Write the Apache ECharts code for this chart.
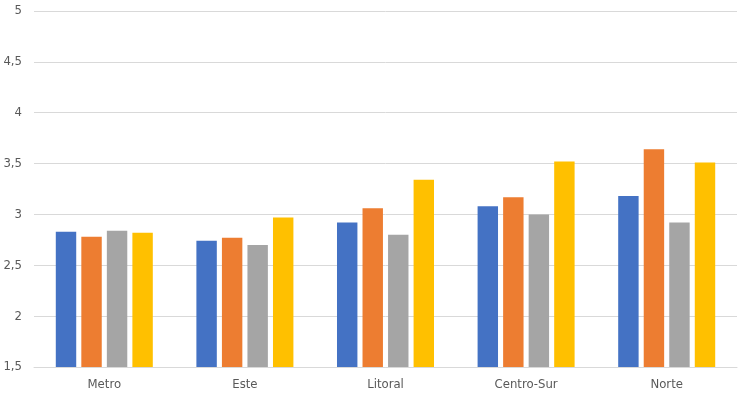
<!DOCTYPE html>
<html>
<head>
<meta charset="utf-8">
<script src="https://cdn.jsdelivr.net/npm/echarts@6/dist/echarts.min.js"></script>
<style>html,body{margin:0;padding:0;background:#fff;}#c{width:738px;height:398px;}</style>
</head>
<body>
<div id="c"></div>
<script>
var categories = ['Metro', 'Este', 'Litoral', 'Centro-Sur', 'Norte'];
var serie1 = [2.83, 2.74, 2.92, 3.08, 3.18];
var serie2 = [2.78, 2.77, 3.06, 3.17, 3.64];
var serie3 = [2.84, 2.70, 2.80, 3.00, 2.92];
var serie4 = [2.82, 2.97, 3.34, 3.52, 3.51];
var colors = ['#4472C4', '#ED7D31', '#A5A5A5', '#FFC000'];
var font = "'Liberation Sans Narrow', 'DejaVu Sans Condensed', 'Open Sans', sans-serif";

var chart = echarts.init(document.getElementById('c'));
function mk(data, i) {
  return { type: 'bar', data: data, itemStyle: { color: colors[i] }, barGap: '25%', barCategoryGap: '31%' };
}
chart.setOption({
  animation: false,
  grid: { left: 34, right: 1, top: 11, bottom: 31 },
  xAxis: {
    type: 'category', data: categories,
    axisLine: { lineStyle: { color: '#D9D9D9', width: 1 } },
    axisTick: { show: false },
    axisLabel: { color: '#595959', fontSize: 13, fontFamily: font, margin: 11 }
  },
  yAxis: {
    type: 'value', min: 1.5, max: 5, interval: 0.5,
    axisLine: { show: false }, axisTick: { show: false },
    splitLine: { lineStyle: { color: '#D9D9D9', width: 1 } },
    axisLabel: { color: '#595959', fontSize: 13, fontFamily: font, margin: 12,
      formatter: function (v) { return String(v).replace('.', ','); } }
  },
  series: [mk(serie1, 0), mk(serie2, 1), mk(serie3, 2), mk(serie4, 3)]
});
</script>
</body>
</html>
